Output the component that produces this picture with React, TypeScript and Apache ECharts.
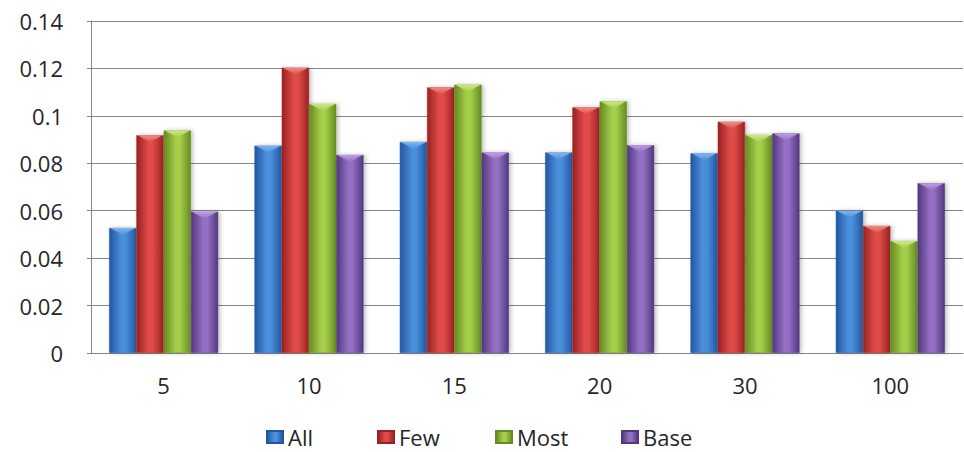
import React, { useEffect, useRef } from "react";
import * as echarts from "echarts";

const categories = ["5", "10", "15", "20", "30", "100"];
const seriesNames = ["All", "Few", "Most", "Base"];
const allValues = [0.0527, 0.0874, 0.089, 0.0845, 0.0842, 0.06];
const fewValues = [0.0918, 0.1203, 0.112, 0.1036, 0.0975, 0.0536];
const mostValues = [0.0938, 0.105, 0.1131, 0.1061, 0.0919, 0.0472];
const baseValues = [0.0596, 0.0835, 0.0845, 0.0876, 0.0926, 0.0716];
const yTicks = { min: 0, max: 0.14, interval: 0.02 };

// edge / centre / highlight shades for the cylindrical-looking bars
const palette = [
  { edge: "#2456a0", mid: "#4a90dc", light: "#8cc0f4" },
  { edge: "#9a2222", mid: "#e04c48", light: "#f49a94" },
  { edge: "#658c22", mid: "#a6ce4a", light: "#d6f08c" },
  { edge: "#52387e", mid: "#9470c4", light: "#c6aaea" },
];

// legend entries sit at fixed offsets along the bottom row
const legendLefts = [266, 377, 495, 621];

const CATEGORY_FILL = 0.75; // share of each category band covered by the bar group

const shade = (p: { edge: string; mid: string }) =>
  new echarts.graphic.LinearGradient(0, 0, 1, 0, [
    { offset: 0, color: p.edge },
    { offset: 0.45, color: p.mid },
    { offset: 0.6, color: p.mid },
    { offset: 1, color: p.edge },
  ]);

export default function App() {
  const ref = useRef<HTMLDivElement>(null);

  useEffect(() => {
    if (!ref.current) return;
    const chart = echarts.init(ref.current, undefined, { renderer: "svg" });
    const values = [allValues, fewValues, mostValues, baseValues];
    const font = "'Open Sans', sans-serif";
    const n = seriesNames.length;

    const bars = seriesNames.map((name, i) => ({
      name,
      type: "bar",
      data: values[i],
      barGap: "0%",
      barCategoryGap: `${(1 - CATEGORY_FILL) * 100}%`,
      itemStyle: {
        color: shade(palette[i]),
        borderColor: palette[i].edge,
        borderWidth: 0.5,
        shadowColor: "rgba(0,0,0,0.25)",
        shadowBlur: 4,
        shadowOffsetX: 2,
      },
    }));

    // bevelled cap on top of each bar
    const caps = seriesNames.map((_, i) => ({
      type: "custom",
      silent: true,
      z: 5,
      data: values[i].map((v, k) => [k, v]),
      renderItem: (params: any, api: any) => {
        const top = api.coord([api.value(0), api.value(1)]);
        const band = api.size([1, 0])[0];
        const w = (band * CATEGORY_FILL) / n;
        const x0 = top[0] - (band * CATEGORY_FILL) / 2 + i * w;
        const y = top[1];
        const h = Math.min(7, w * 0.28);
        return {
          type: "polygon",
          shape: {
            points: [
              [x0 + 1, y],
              [x0 + w - 1, y],
              [x0 + w / 2, y + h],
            ],
          },
          style: {
            fill: new echarts.graphic.LinearGradient(0, 0, 0, 1, [
              { offset: 0, color: palette[i].light },
              { offset: 1, color: palette[i].mid },
            ]),
            opacity: 0.85,
          },
        };
      },
    }));

    chart.setOption({
      animation: false,
      backgroundColor: "#ffffff",
      textStyle: { fontFamily: font },
      grid: { left: 91, right: 1, top: 21, bottom: 99, containLabel: false },
      legend: seriesNames.map((name, i) => ({
        left: legendLefts[i],
        top: 425,
        padding: 0,
        itemWidth: 16,
        itemHeight: 12,
        itemGap: 6,
        icon: "rect",
        textStyle: {
          fontSize: 22,
          lineHeight: 24,
          color: "#262626",
          fontFamily: font,
        },
        data: [name],
      })),
      xAxis: {
        type: "category",
        data: categories,
        axisLine: { show: true, lineStyle: { color: "#868686", width: 1 } },
        axisTick: { show: false },
        axisLabel: { fontSize: 22, color: "#262626", margin: 21, fontFamily: font },
      },
      yAxis: {
        type: "value",
        min: yTicks.min,
        max: yTicks.max,
        interval: yTicks.interval,
        axisLine: { show: true, lineStyle: { color: "#868686", width: 1 } },
        axisTick: { show: true, length: 4, lineStyle: { color: "#868686" } },
        splitLine: { show: true, lineStyle: { color: "#868686", width: 1 } },
        axisLabel: {
          fontSize: 22,
          color: "#262626",
          margin: 28,
          fontFamily: font,
          formatter: (v: number) => String(+v.toFixed(2)),
        },
      },
      series: [...bars, ...caps],
    });

    return () => chart.dispose();
  }, []);

  return (
    <div
      ref={ref}
      style={{ position: "fixed", left: 0, top: 0, width: 964, height: 452 }}
    />
  );
}
